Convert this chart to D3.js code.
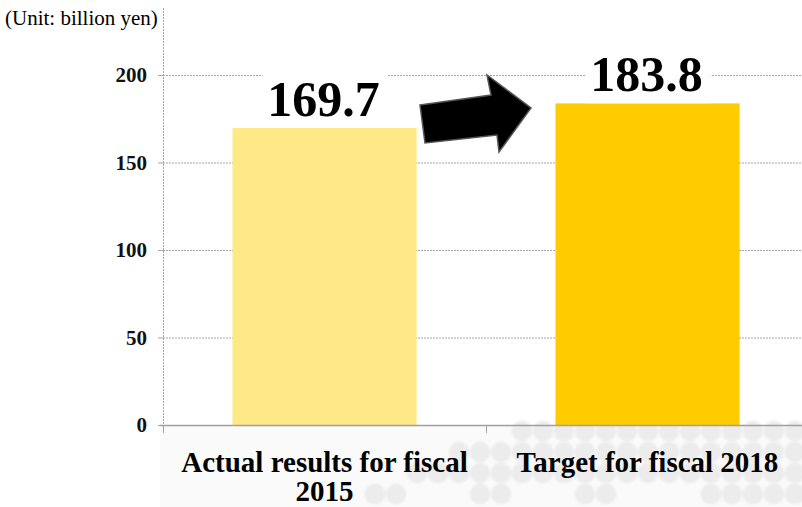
<!DOCTYPE html>
<html>
<head>
<meta charset="utf-8">
<script src="https://cdn.jsdelivr.net/npm/d3@7"></script>
<style>
  html, body { margin: 0; padding: 0; background: #fff; }
  svg { display: block; }
</style>
</head>
<body>
<div id="chart"></div>
<script>
// Sales figures (billion yen)
const categories = ["Actual results for fiscal 2015", "Target for fiscal 2018"];
const categoryLines = [["Actual results for fiscal", "2015"], ["Target for fiscal 2018"]];
const values = [169.7, 183.8];
const valueLabels = ["169.7", "183.8"];
const barColors = ["#FFE986", "#FFCC00"];
const yTicks = [0, 50, 100, 150, 200];
const unitLabel = "(Unit: billion yen)";

// Decorative dot rows for the footer band
const dotRows = [
  "000000011111111111111",
  "000011111111111111111",
  "001111111111111111111",
  "110001100011000011111"
];

const W = 802, H = 507;
const svg = d3.select("#chart").append("svg").attr("width", W).attr("height", H);

const serif = "'Liberation Serif', 'Times New Roman', serif";

const defs = svg.append("defs");
defs.append("filter").attr("id", "soft").append("feGaussianBlur").attr("stdDeviation", 0.8);

// footer background with dots
const footer = svg.append("g");
footer.append("rect").attr("x", 160).attr("y", 426).attr("width", W - 160).attr("height", H - 426)
  .attr("fill", "#fafafa");
const dots = footer.append("g").attr("filter", "url(#soft)");
dotRows.forEach((row, r) => {
  row.split("").forEach((c, i) => {
    if (c === "1") {
      dots.append("circle")
        .attr("cx", 375 + i * 21).attr("cy", 431 + r * 21).attr("r", 10.3)
        .attr("fill", "#ececec");
    }
  });
});

const x = d3.scaleBand().domain(categories).range([163, 809]).paddingInner(0.43).paddingOuter(0.215);
const y = d3.scaleLinear().domain([0, 200]).range([425, 75]);

// gridlines
svg.append("g").selectAll("line").data(yTicks.filter(d => d > 0)).join("line")
  .attr("x1", 163).attr("x2", W).attr("y1", d => y(d) + 0.5).attr("y2", d => y(d) + 0.5)
  .attr("stroke", "#a5a5a5").attr("stroke-width", 1).attr("stroke-dasharray", "2,1");

// y axis line (dashed)
svg.append("line").attr("x1", 163.5).attr("x2", 163.5).attr("y1", 8).attr("y2", 432)
  .attr("stroke", "#a5a5a5").attr("stroke-dasharray", "2,1");

// y tick marks and labels
const yAxis = svg.append("g");
yAxis.selectAll("line").data(yTicks).join("line")
  .attr("x1", 158).attr("x2", 163).attr("y1", d => y(d) + 0.5).attr("y2", d => y(d) + 0.5)
  .attr("stroke", "#a5a5a5");
yAxis.selectAll("text").data(yTicks).join("text")
  .attr("x", 147).attr("y", d => y(d)).attr("dy", "0.35em")
  .attr("text-anchor", "end")
  .attr("font-family", serif).attr("font-weight", "bold").attr("font-size", 21)
  .attr("fill", "#111").text(d => d);

// bars
svg.append("g").selectAll("rect").data(values).join("rect")
  .attr("x", (d, i) => x(categories[i]))
  .attr("width", x.bandwidth())
  .attr("y", d => y(d))
  .attr("height", d => y(0) - y(d))
  .attr("fill", (d, i) => barColors[i]);

// x axis baseline and divider ticks
svg.append("line").attr("x1", 160).attr("x2", W).attr("y1", 425.5).attr("y2", 425.5)
  .attr("stroke", "#a0a0a0").attr("stroke-width", 1.5);
const step = x.step();
svg.append("g").selectAll("line").data([163, 163 + step]).join("line")
  .attr("x1", d => d + 0.5).attr("x2", d => d + 0.5).attr("y1", 425).attr("y2", 433)
  .attr("stroke", "#a0a0a0");

// value labels with white backing
const labels = svg.append("g");
values.forEach((v, i) => {
  const cx = x(categories[i]) + x.bandwidth() / 2;
  labels.append("rect")
    .attr("x", cx - 62).attr("y", y(v) - 60).attr("width", 125).attr("height", 60)
    .attr("fill", "#fff");
  labels.append("text")
    .attr("x", cx - 1).attr("y", y(v) - 12)
    .attr("text-anchor", "middle")
    .attr("font-family", serif).attr("font-weight", "bold").attr("font-size", 50)
    .attr("fill", "#000").text(valueLabels[i]);
});

// category labels
categoryLines.forEach((lines, i) => {
  const cx = x(categories[i]) + x.bandwidth() / 2;
  lines.forEach((t, j) => {
    svg.append("text")
      .attr("x", cx).attr("y", 472 + j * 29)
      .attr("text-anchor", "middle")
      .attr("font-family", serif).attr("font-weight", "bold").attr("font-size", 29)
      .attr("fill", "#000").text(t);
  });
});

// growth arrow between the bars
const arrow = [[420,105],[491,95],[487,75],[531,108],[499,152],[497,135],[425,143]];
svg.append("path")
  .attr("d", d3.line()(arrow) + "Z")
  .attr("fill", "#000").attr("stroke", "#555").attr("stroke-width", 1.5)
  .attr("stroke-linejoin", "miter");

// unit label
svg.append("text").attr("x", 5).attr("y", 25)
  .attr("font-family", serif).attr("font-size", 21).attr("fill", "#000")
  .text(unitLabel);
</script>
</body>
</html>
